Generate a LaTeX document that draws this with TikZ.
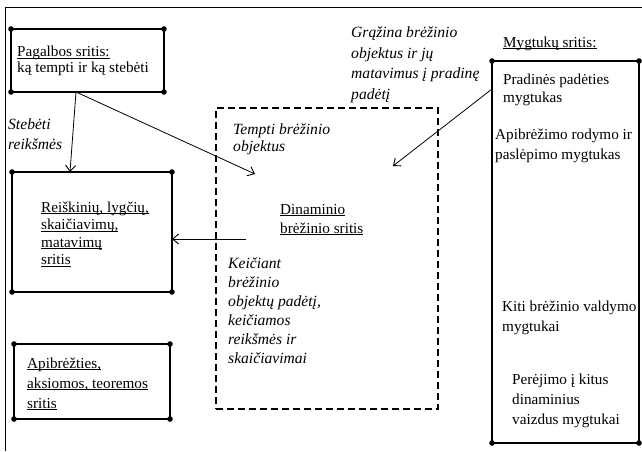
\documentclass[tikz,border=0pt]{standalone}
\usepackage{fontspec}
\setmainfont{Liberation Serif}
\usetikzlibrary{arrows.meta}
\newcommand\ulx[1]{\underline{\raisebox{0pt}[\height][0pt]{#1}}}
\tikzset{
  solidbox/.style={draw, line width=1.1pt, rectangle, inner sep=0, outer sep=0, anchor=north west},
  dashbox/.style={draw, line width=1.1pt, dash pattern=on 7pt off 4pt, rectangle, inner sep=0, outer sep=0, anchor=north west},
  txt/.style={inner sep=0, align=left, anchor=west, font=\fontsize{15.2}{#1}\selectfont},
  txt/.default=17,
  itx/.style={inner sep=0, align=left, anchor=west, font=\fontsize{15.6}{#1}\selectfont\itshape},
  itx/.default=19,
  arr/.style={line width=0.8pt, -{Straight Barb[length=6pt,width=10pt,line width=0.9pt]}},
  dot/.style={fill=black}
}
\begin{document}
\begin{tikzpicture}[x=1pt,y=-1pt]
\useasboundingbox (0,0) rectangle (642,451);
% outer frame
\draw[line width=1pt] (5,451) -- (5,7) -- (642,7);

% boxes
\node[solidbox, minimum width=153pt, minimum height=63pt] (pag) at (11,29) {};
\node[solidbox, minimum width=160pt, minimum height=120pt] (rei) at (12,172) {};
\node[solidbox, minimum width=156pt, minimum height=75pt] (api) at (14,344) {};
\node[solidbox, minimum width=147pt, minimum height=382pt] (myg) at (492,61) {};
\node[dashbox, minimum width=222pt, minimum height=301pt] (dyn) at (216,108) {};

\foreach \n in {pag,rei,api,myg}
  \foreach \c in {north west,north east,south west,south east}
    \fill[dot] (\n.\c) circle (2.8);

% texts
\node[txt=16.5] (pagt) at (17,61) {\ulx{Pagalbos sritis:}\\ką tempti ir ką stebėti};
\node[txt=17.5] (reit) at (41,234) {\ulx{Reiškinių, lygčių,}\\\ulx{skaičiavimų,}\\\ulx{matavimų}\\\ulx{sritis}};
\node[txt=20] (apit) at (27,384) {\ulx{Apibrėžties,}\\\ulx{aksiomos, teoremos}\\\ulx{sritis}};
\node[txt=19] (dynt) at (280,219.5) {\ulx{Dinaminio}\\\ulx{brėžinio sritis}};
\node[txt] (mygt) at (503,43) {\ulx{Mygtukų sritis:}};
\node[txt=18] (b1) at (503,90) {Pradinės padėties\\mygtukas};
\node[txt=20] (b2) at (495,146) {Apibrėžimo rodymo ir\\paslėpimo mygtukas};
\node[txt=20] (b3) at (502,318) {Kiti brėžinio valdymo\\mygtukai};
\node[txt=20] (b4) at (512,401) {Perėjimo į kitus\\dinaminius\\vaizdus mygtukai};

\node[itx=20] (steb) at (8,134) {Stebėti\\reikšmės};
\node[itx=20.5] (graz) at (351,64.5) {Grąžina brėžinio\\objektus ir jų\\matavimus į pradinę\\padėtį};
\node[itx=17] (temp) at (233,139.5) {Tempti brėžinio\\objektus};
\node[itx=19] (keic) at (228,310.5) {Keičiant\\brėžinio\\objektų padėtį,\\keičiamos\\reikšmės ir\\skaičiavimai};

% connector ends
\coordinate (pagb) at (76,92);
\coordinate (reitop) at (70,172);
\coordinate (dragtip) at (255,174);
\coordinate (mygl) at (492,89);
\coordinate (rettip) at (393,166);
\coordinate (dynl) at (246,239);
\coordinate (reir) at (172,239);

\draw[arr] (pagb) -- (reitop);
\draw[arr] (pagb) -- (dragtip);
\draw[arr] (mygl) -- (rettip);
\draw[arr] (dynl) -- (reir);
\end{tikzpicture}
\end{document}
